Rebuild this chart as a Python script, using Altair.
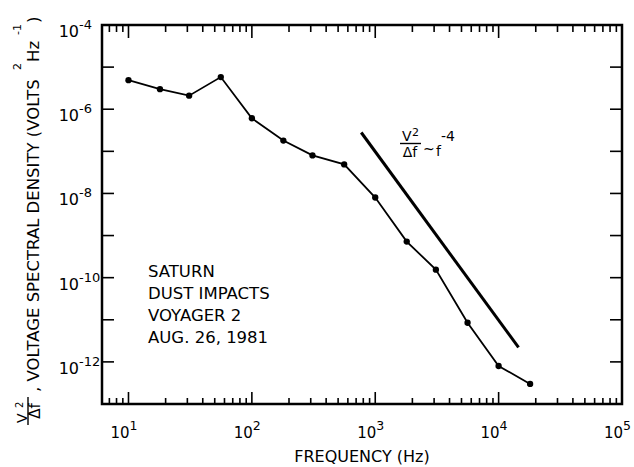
import altair as alt
import pandas as pd

# Measured dust-impact spectrum (frequency in Hz, spectral density in V^2/Hz)
freq_hz = [10, 18, 31, 56, 100, 180, 310, 560, 1000, 1800, 3100, 5600, 10000, 18000]
density = [4.9e-6, 3.0e-6, 2.1e-6, 5.8e-6, 6.1e-7, 1.8e-7, 8.0e-8, 4.9e-8,
           8.0e-9, 7.2e-10, 1.55e-10, 8.5e-12, 8.0e-13, 3.0e-13]

# f^-4 guide line end points
guide_f = [770, 14500]
guide_v = [2.8e-7, 2.2e-12]

# Axis decades and their exponent labels
x_decades = [10, 100, 1000, 10000, 100000]
x_exps = ["1", "2", "3", "4", "5"]
y_decades = [1e-4, 1e-6, 1e-8, 1e-10, 1e-12]
y_exps = ["-4", "-6", "-8", "-10", "-12"]

note_lines = ["SATURN", "DUST IMPACTS", "VOYAGER 2", "AUG. 26, 1981"]
x_title = "FREQUENCY (Hz)"

W, H = 520, 379
FONT = "DejaVu Sans"
X_MIN, X_MAX = 6.1, 1e5
Y_MIN, Y_MAX = 1e-13, 1e-4

xs = alt.Scale(type="log", domain=[X_MIN, X_MAX], nice=False)
ys = alt.Scale(type="log", domain=[Y_MIN, Y_MAX], nice=False)

spec = pd.DataFrame({"f": freq_hz, "v": density})
guide = pd.DataFrame({"f": guide_f, "v": guide_v})

x_major = [d for d in x_decades if d < X_MAX]
x_minor = [m * 10 ** e for e in range(0, 5) for m in range(2, 10)
           if X_MIN <= m * 10 ** e <= X_MAX]
y_ticks = [10.0 ** e for e in range(-12, -4)]

xmaj_df = pd.DataFrame({"t": x_major})
xmin_df = pd.DataFrame({"t": x_minor})
ytk_df = pd.DataFrame({"t": y_ticks})
xlab_df = pd.DataFrame({"t": x_decades, "e": x_exps})
ylab_df = pd.DataFrame({"t": y_decades, "e": y_exps})

X = lambda: alt.X("t:Q", scale=xs, axis=None)
Y = lambda: alt.Y("t:Q", scale=ys, axis=None)

# spectrum line with dots
line = alt.Chart(spec).mark_line(color="black", strokeWidth=1.8).encode(
    x=alt.X("f:Q", scale=xs, axis=None), y=alt.Y("v:Q", scale=ys, axis=None))
dots = alt.Chart(spec).mark_point(filled=True, color="black", size=40, opacity=1).encode(
    x=alt.X("f:Q", scale=xs, axis=None), y=alt.Y("v:Q", scale=ys, axis=None))
guide_line = alt.Chart(guide).mark_line(color="black", strokeWidth=3).encode(
    x=alt.X("f:Q", scale=xs, axis=None), y=alt.Y("v:Q", scale=ys, axis=None))

# inward ticks on all four sides
tick_style = dict(color="black", strokeWidth=1.6)
bot_major = alt.Chart(xmaj_df).mark_rule(**tick_style).encode(
    x=X(), y=alt.value(H), y2=alt.value(H - 12))
bot_minor = alt.Chart(xmin_df).mark_rule(**tick_style).encode(
    x=X(), y=alt.value(H), y2=alt.value(H - 6))
top_major = alt.Chart(xmaj_df).mark_rule(**tick_style).encode(
    x=X(), y=alt.value(0), y2=alt.value(13))
top_minor = alt.Chart(xmin_df).mark_rule(**tick_style).encode(
    x=X(), y=alt.value(0), y2=alt.value(7))
left_ticks = alt.Chart(ytk_df).mark_rule(**tick_style).encode(
    y=Y(), x=alt.value(0), x2=alt.value(12))
right_ticks = alt.Chart(ytk_df).mark_rule(**tick_style).encode(
    y=Y(), x=alt.value(W), x2=alt.value(W - 12))

# tick labels: "10" with raised exponent
xl_base = alt.Chart(xlab_df).mark_text(text="10", align="right", fontSize=15, font=FONT,
                                       dx=1, color="black").encode(
    x=X(), y=alt.value(H + 29))
xl_exp = alt.Chart(xlab_df).mark_text(align="left", fontSize=12.5, font=FONT, dx=1,
                                      color="black").encode(
    x=X(), y=alt.value(H + 22), text="e:N")
yl_base = alt.Chart(ylab_df).mark_text(text="10", align="right", fontSize=16, font=FONT,
                                       dy=7, color="black").encode(
    y=Y(), x=alt.value(-23))
yl_exp = alt.Chart(ylab_df).mark_text(align="left", fontSize=13, font=FONT, dy=0,
                                      color="black").encode(
    y=Y(), x=alt.value(-23), text="e:N")

one = pd.DataFrame({"k": [0]})

def label(txt, x, y, size=15, align="center", baseline="alphabetic", angle=0, **kw):
    return alt.Chart(one).mark_text(text=txt, fontSize=size, font=FONT, align=align,
                                    baseline=baseline, angle=angle, color="black",
                                    **kw).encode(x=alt.value(x), y=alt.value(y))

def bar(x1, y1, x2, y2, w=1.4):
    return alt.Chart(one).mark_rule(color="black", strokeWidth=w).encode(
        x=alt.value(x1), y=alt.value(y1), x2=alt.value(x2), y2=alt.value(y2))

# x axis title
xt = label(x_title, 260, H + 58, size=16)

# rotated y axis title, built from pieces so the superscripts stay large
R = dict(align="left", angle=270)
yt_pieces = [
    label(", VOLTAGE SPECTRAL DENSITY (VOLTS", -63, 367, size=16.5, **R),
    label("2", -81, 45, size=11, **R),
    label(" Hz", -63, 37, size=16.5, **R),
    label("-1", -81, 10, size=11, **R),
    label(")", -63, -2, size=16.5, **R),
    label("V", -75, 398, size=14, **R),
    label("2", -79, 383, size=10, **R),
    bar(-74, 372, -74, 400),
    label("\u0394f", -62, 386, size=15, align="center", angle=270),
]

# annotation next to the guide line
an_pieces = [
    label("V", 300, 116, size=14, align="left"),
    label("2", 310, 111, size=11, align="left"),
    bar(298, 118.5, 319, 118.5),
    label("\u0394f", 308, 132, size=14),
    label("~", 321, 129, size=14, align="left"),
    label("f", 334, 131, size=14, align="left"),
    label("-4", 339, 116, size=14, align="left"),
]

note = alt.Chart(one).mark_text(text="\n".join(note_lines), fontSize=16.5, font=FONT,
                                align="left", baseline="top", lineHeight=22,
                                lineBreak="\n", color="black").encode(
    x=alt.value(46), y=alt.value(239))

chart = alt.layer(
    guide_line, line, dots,
    bot_major, bot_minor, top_major, top_minor, left_ticks, right_ticks,
    xl_base, xl_exp, yl_base, yl_exp, xt,
    *yt_pieces, *an_pieces, note,
).properties(
    width=W, height=H, autosize="none",
    padding={"left": 102, "top": 25, "right": 12, "bottom": 63},
    background="white",
).configure_view(stroke="black", strokeWidth=2.5)

chart.save("out.html", embed_options={"renderer": "svg", "actions": False})
